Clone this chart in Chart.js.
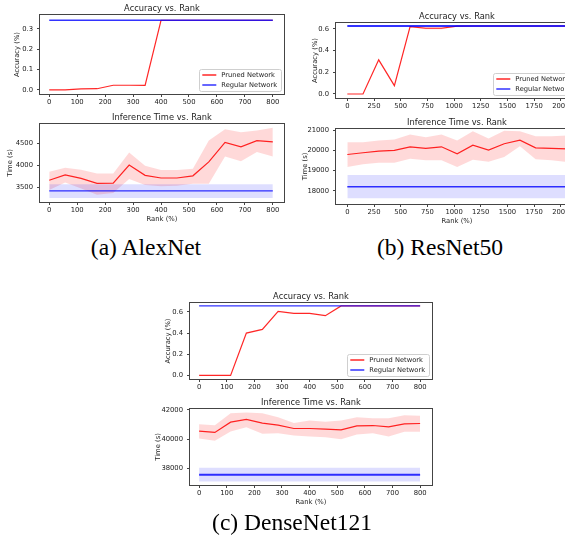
<!DOCTYPE html>
<html>
<head>
<meta charset="utf-8">
<script src="https://cdn.jsdelivr.net/npm/chart.js@4/dist/chart.umd.min.js"></script>
<style>
  html, body { margin: 0; padding: 0; background: #fff; width: 565px; height: 539px; overflow: hidden; position: relative; }
  canvas { position: absolute; }
  .cap { position: absolute; width: 240px; text-align: center; font-family: 'Liberation Serif', 'Times New Roman', serif; font-size: 23.5px; line-height: 28px; color: #000; }
</style>
</head>
<body>
<canvas id="aAcc"></canvas>
<canvas id="aTime"></canvas>
<canvas id="bAcc"></canvas>
<canvas id="bTime"></canvas>
<canvas id="cAcc"></canvas>
<canvas id="cTime"></canvas>
<div class="cap" style="left:26px;top:233px">(a) AlexNet</div>
<div class="cap" style="left:320px;top:233px">(b) ResNet50</div>
<div class="cap" style="left:172px;top:508px">(c) DenseNet121</div>
<script>
// ---- data ----
const legendLabels = ['Pruned Network', 'Regular Network'];

const rank800 = [0, 57, 114, 171, 229, 286, 343, 400, 457, 514, 571, 629, 686, 743, 800];
const rank2000 = [0, 147, 294, 441, 588, 735, 882, 1029, 1176, 1323, 1470, 1617, 1764, 1911, 2058];
const ticks800 = [0, 100, 200, 300, 400, 500, 600, 700, 800];
const ticks2000 = [0, 250, 500, 750, 1000, 1250, 1500, 1750, 2000];

// AlexNet
const alexAcc = [0.0, 0.0, 0.005, 0.006, 0.023, 0.023, 0.022, 0.343, 0.343, 0.343, 0.343, 0.343, 0.343, 0.343, 0.343];
const alexAccRegular = 0.343;
const alexAccTicks = [0.0, 0.1, 0.2, 0.3];
const alexTime = [3670, 3790, 3710, 3600, 3605, 4015, 3780, 3720, 3720, 3770, 4085, 4530, 4430, 4570, 4540];
const alexTimeHi = [3860, 3955, 3910, 3820, 3820, 4300, 4000, 3900, 3900, 3930, 4570, 4830, 4760, 4800, 4860];
const alexTimeLo = [3450, 3620, 3480, 3340, 3380, 3700, 3560, 3530, 3545, 3590, 3590, 4210, 4100, 4310, 4210];
const alexTimeRegular = 3430;
const alexTimeRegularBand = [3265, 3576];
const alexTimeTicks = [3500, 4000, 4500];

// ResNet50
const resAcc = [0.0, 0.0, 0.315, 0.077, 0.621, 0.606, 0.606, 0.625, 0.627, 0.627, 0.627, 0.627, 0.627, 0.627, 0.627];
const resAccHi = [0.0, 0.0, 0.315, 0.077, 0.626, 0.616, 0.616, 0.630, 0.627, 0.627, 0.627, 0.627, 0.627, 0.627, 0.627];
const resAccLo = [0.0, 0.0, 0.315, 0.077, 0.616, 0.598, 0.598, 0.620, 0.627, 0.627, 0.627, 0.627, 0.627, 0.627, 0.627];
const resAccRegular = 0.627;
const resAccTicks = [0.0, 0.2, 0.4, 0.6];
const resTime = [19800, 19885, 19965, 20000, 20180, 20100, 20180, 19835, 20260, 20015, 20330, 20510, 20130, 20100, 20080];
const resTimeHi = [20410, 20410, 20490, 20540, 20790, 20660, 20790, 20490, 20950, 20590, 20980, 20950, 20700, 20700, 20740];
const resTimeLo = [19180, 19310, 19390, 19390, 19590, 19510, 19510, 19180, 19540, 19440, 19670, 20210, 19560, 19510, 19430];
const resTimeRegular = 18200;
const resTimeRegularBand = [17625, 18785];
const resTimeTicks = [18000, 19000, 20000, 21000];

// DenseNet121
const denseAcc = [0.0, 0.0, 0.0, 0.40, 0.435, 0.606, 0.587, 0.587, 0.565, 0.657, 0.657, 0.657, 0.657, 0.657, 0.657];
const denseAccRegular = 0.657;
const denseAccTicks = [0.0, 0.2, 0.4, 0.6];
const denseTime = [40550, 40460, 41165, 41350, 41100, 40960, 40730, 40730, 40685, 40640, 40915, 40935, 40845, 41050, 41075];
const denseTimeHi = [41030, 40960, 41780, 41830, 41780, 41510, 41100, 41280, 41190, 41280, 41510, 41440, 41440, 41645, 41600];
const denseTimeLo = [40045, 39885, 40525, 40825, 40365, 40410, 40250, 40185, 40135, 40000, 40320, 40410, 40185, 40505, 40505];
const denseTimeRegular = 37555;
const denseTimeRegularBand = [37100, 38035];
const denseTimeTicks = [38000, 40000, 42000];

// ---- styling ----
const FONT = "'DejaVu Sans', sans-serif";
const INK = '#222';
const RED = 'rgba(255,0,0,0.85)';
const RED_FILL = 'rgba(255,0,0,0.15)';
const BLUE = 'rgba(0,0,255,0.8)';
const BLUE_FILL = 'rgba(0,0,255,0.13)';

// full matplotlib-style frame round the plot area
const boxFrame = {
  id: 'boxFrame',
  afterDatasetsDraw(chart) {
    const { ctx, chartArea: a } = chart;
    ctx.save();
    ctx.strokeStyle = '#444';
    ctx.lineWidth = 1;
    ctx.strokeRect(Math.round(a.left) - 0.5, Math.round(a.top) - 0.5, Math.round(a.right - a.left) + 1, Math.round(a.bottom - a.top) + 1);
    ctx.restore();
  }
};

// legend drawn inside the lower-right corner, like loc='lower right'
const innerLegend = {
  id: 'innerLegend',
  afterDraw(chart, args, opts) {
    if (!opts.show) return;
    const { ctx, chartArea: a } = chart;
    const colors = [RED, BLUE];
    ctx.save();
    ctx.font = '6.7px ' + FONT;
    const tw = Math.max(...legendLabels.map(s => ctx.measureText(s).width));
    const w = 3 + 14 + 5 + tw + 4, h = 22;
    const x = a.right - 3 - w, y = a.bottom - 3 - h;
    ctx.fillStyle = 'rgba(255,255,255,0.85)';
    ctx.strokeStyle = '#cfcfcf';
    ctx.lineWidth = 1;
    ctx.beginPath();
    ctx.roundRect(Math.round(x) + 0.5, Math.round(y) + 0.5, Math.round(w), h, 2);
    ctx.fill();
    ctx.stroke();
    legendLabels.forEach((label, i) => {
      const cy = y + 6 + i * 10;
      ctx.strokeStyle = colors[i];
      ctx.lineWidth = 1.5;
      ctx.beginPath();
      ctx.moveTo(x + 3, cy);
      ctx.lineTo(x + 17, cy);
      ctx.stroke();
      ctx.fillStyle = INK;
      ctx.textBaseline = 'middle';
      ctx.fillText(label, x + 22, cy + 0.5);
    });
    ctx.restore();
  }
};

function drawPanel(p) {
  const [l, t, r, b] = p.box;
  const ML = 40, MT = 14, MR = 4, MB = p.xTitle ? 24 : 12;
  const cv = document.getElementById(p.id);
  cv.width = ML + (r - l) + MR;
  cv.height = MT + (b - t) + MB;
  cv.style.left = (l - ML) + 'px';
  cv.style.top = (t - MT) + 'px';

  const pts = ys => p.xs.map((x, i) => ({ x, y: ys[i] }));
  const flat = v => [{ x: p.xs[0], y: v }, { x: p.xs[p.xs.length - 1], y: v }];

  const datasets = [
    { data: flat(p.regular), borderColor: BLUE, borderWidth: p.blueWidth },
    { data: pts(p.pruned), borderColor: RED, borderWidth: 1.2 },
  ];
  if (p.regBand) {
    datasets.push(
      { data: flat(p.regBand[1]), borderWidth: 0, backgroundColor: BLUE_FILL, fill: '+1' },
      { data: flat(p.regBand[0]), borderWidth: 0 }
    );
  }
  if (p.hi) {
    datasets.push(
      { data: pts(p.hi), borderWidth: 0, backgroundColor: RED_FILL, fill: '+1' },
      { data: pts(p.lo), borderWidth: 0 }
    );
  }

  const tickFont = { family: FONT, size: 6.8 };
  const axisFont = { family: FONT, size: 6.8, lineHeight: 1.2 };
  const grid = { drawOnChartArea: false, drawTicks: true, tickLength: 3, tickColor: '#444' };

  new Chart(cv, {
    type: 'line',
    data: { datasets },
    options: {
      responsive: false,
      animation: false,
      devicePixelRatio: 1,
      layout: { padding: { left: 0, right: MR, top: 0, bottom: 0 } },
      elements: { point: { radius: 0 }, line: { tension: 0, fill: false } },
      plugins: {
        legend: { display: false },
        tooltip: { enabled: false },
        title: {
          display: true, text: p.title, fullSize: false, color: INK,
          font: { family: FONT, size: 8.3, weight: 'normal', lineHeight: 1.2 },
          padding: { top: 2.5, bottom: 1.5 }
        },
        innerLegend: { show: !!p.legend }
      },
      scales: {
        x: {
          type: 'linear', min: p.xMin, max: p.xMax,
          afterBuildTicks: s => { s.ticks = p.xTicks.map(v => ({ value: v })); },
          afterFit: s => { s.height = MB; },
          grid, border: { display: false },
          ticks: { autoSkip: false, maxRotation: 0, padding: 1, color: INK, font: tickFont, callback: v => String(v) },
          title: p.xTitle
            ? { display: true, text: 'Rank (%)', color: INK, font: axisFont, padding: { top: 0, bottom: 2.5 } }
            : { display: false }
        },
        y: {
          type: 'linear', min: p.yMin, max: p.yMax,
          afterBuildTicks: s => { s.ticks = p.yTicks.map(v => ({ value: v })); },
          afterFit: s => { s.width = ML; },
          grid, border: { display: false },
          ticks: { autoSkip: false, padding: 4, color: INK, font: tickFont, callback: p.yFmt },
          title: {
            display: true, text: p.yTitle, color: INK, font: axisFont,
            padding: { top: ML - p.yTitleOff - 4.08, bottom: 0 }
          }
        }
      }
    },
    plugins: [boxFrame, innerLegend]
  });
}

const fmt1 = v => v.toFixed(1);
const fmt0 = v => String(v);

drawPanel({
  id: 'aAcc', box: [40, 15, 284, 94], title: 'Accuracy vs. Rank', yTitle: 'Accuracy (%)', yTitleOff: 23,
  xs: rank800, pruned: alexAcc, regular: alexAccRegular, blueWidth: 1.5, legend: true,
  xMin: -33, xMax: 840, xTicks: ticks800, yMin: -0.02, yMax: 0.369, yTicks: alexAccTicks, yFmt: fmt1
});
drawPanel({
  id: 'aTime', box: [40, 124, 284, 202], title: 'Inference Time vs. Rank', yTitle: 'Time (s)', yTitleOff: 30, xTitle: true,
  xs: rank800, pruned: alexTime, hi: alexTimeHi, lo: alexTimeLo, regular: alexTimeRegular, regBand: alexTimeRegularBand, blueWidth: 1.3,
  xMin: -33, xMax: 840, xTicks: ticks800, yMin: 3175, yMax: 4948, yTicks: alexTimeTicks, yFmt: fmt0
});
drawPanel({
  id: 'bAcc', box: [336, 23, 578, 98], title: 'Accuracy vs. Rank', yTitle: 'Accuracy (%)', yTitleOff: 21,
  xs: rank2000, pruned: resAcc, hi: resAccHi, lo: resAccLo, regular: resAccRegular, blueWidth: 2.2, legend: true,
  xMin: -106, xMax: 2161, xTicks: ticks2000, yMin: -0.037, yMax: 0.655, yTicks: resAccTicks, yFmt: fmt1
});
drawPanel({
  id: 'bTime', box: [336, 129, 578, 204], title: 'Inference Time vs. Rank', yTitle: 'Time (s)', yTitleOff: 31, xTitle: true,
  xs: rank2000, pruned: resTime, hi: resTimeHi, lo: resTimeLo, regular: resTimeRegular, regBand: resTimeRegularBand, blueWidth: 1.5,
  xMin: -106, xMax: 2161, xTicks: ticks2000, yMin: 17345, yMax: 21065, yTicks: resTimeTicks, yFmt: fmt0
});
drawPanel({
  id: 'cAcc', box: [190, 303, 432, 379], title: 'Accuracy vs. Rank', yTitle: 'Accuracy (%)', yTitleOff: 22,
  xs: rank800, pruned: denseAcc, regular: denseAccRegular, blueWidth: 1.2, legend: true,
  xMin: -33, xMax: 843, xTicks: ticks800, yMin: -0.034, yMax: 0.685, yTicks: denseAccTicks, yFmt: fmt1
});
drawPanel({
  id: 'cTime', box: [190, 409, 432, 485], title: 'Inference Time vs. Rank', yTitle: 'Time (s)', yTitleOff: 32, xTitle: true,
  xs: rank800, pruned: denseTime, hi: denseTimeHi, lo: denseTimeLo, regular: denseTimeRegular, regBand: denseTimeRegularBand, blueWidth: 2,
  xMin: -33, xMax: 843, xTicks: ticks800, yMin: 36860, yMax: 42070, yTicks: denseTimeTicks, yFmt: fmt0
});
</script>
</body>
</html>
